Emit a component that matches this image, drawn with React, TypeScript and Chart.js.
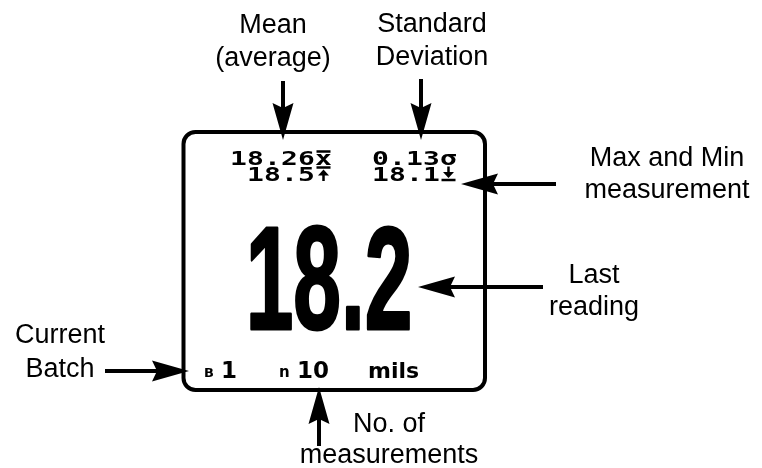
import React, { useEffect, useRef } from "react";
import { Chart, registerables } from "chart.js";

Chart.register(...registerables);

// ---------- data ----------
const CALLOUT_TITLES = ["Mean", "Standard", "Max and Min", "Last", "Current", "No. of"];
const CALLOUT_SUBTITLES = ["(average)", "Deviation", "measurement", "reading", "Batch", "measurements"];
const STAT_VALUES = [18.26, 0.13, 18.5, 18.1]; // mean, std dev, max, min
const STAT_DECIMALS = [2, 2, 1, 1];
const STAT_SYMBOLS = ["xbar", "sigma", "max", "min"];
const LAST_READING = [18.2];
const BATCH_NUMBER = [1];
const MEASUREMENT_COUNT = [10];
const UNIT_LABELS = ["mils"];

// ---------- layout (positions in 762x468 scale units) ----------
const CALLOUT_POS: number[][] = [
  [273, 33, 66],
  [432, 32, 65],
  [667, 166, 198],
  [594, 283, 315],
  [60, 343, 377],
  [389, 432, 463],
];
// tail x, tail y, tip x, tip y
const ARROWS: number[][] = [
  [283, 81, 283, 140],
  [421, 79, 421, 140],
  [556, 184, 461, 184],
  [543, 287, 418, 287],
  [105, 371, 189, 371],
  [319, 446, 319, 387],
];
const HEAD = { len: 37, half: 10.5, notch: 5 };
const BOX = { left: 183.5, top: 132, right: 485, bottom: 390, radius: 12, lineWidth: 4 };
// stat rows: anchor x, baseline, align
const STAT_POS: any[] = [
  [332, 165, "right"],
  [372, 165, "left"],
  [332, 181, "right"],
  [372, 181, "left"],
];
const CELL = 17;
const BIG = { left: 250, right: 410, top: 223, bottom: 330, stroke: 3 };

const shaftData = ARROWS.map(([x1, y1, x2, y2]) => {
  const d = Math.hypot(x2 - x1, y2 - y1);
  const ux = (x2 - x1) / d;
  const uy = (y2 - y1) / d;
  const back = HEAD.len - HEAD.notch - 1;
  return [
    { x: x1, y: y1 },
    { x: x2 - ux * back, y: y2 - uy * back },
  ];
});

const screenPlugin = {
  id: "screen",
  afterDatasetsDraw(chart: any) {
    const ctx: CanvasRenderingContext2D = chart.ctx;
    const sx = chart.scales.x;
    const sy = chart.scales.y;
    const X = (v: number) => sx.getPixelForValue(v);
    const Y = (v: number) => sy.getPixelForValue(v);
    ctx.save();
    ctx.fillStyle = "#000";
    ctx.strokeStyle = "#000";

    // device screen outline
    {
      const l = X(BOX.left), t = Y(BOX.top), r = X(BOX.right), b = Y(BOX.bottom), rad = BOX.radius;
      ctx.lineWidth = BOX.lineWidth;
      ctx.beginPath();
      ctx.moveTo(l + rad, t);
      ctx.lineTo(r - rad, t);
      ctx.arcTo(r, t, r, t + rad, rad);
      ctx.lineTo(r, b - rad);
      ctx.arcTo(r, b, r - rad, b, rad);
      ctx.lineTo(l + rad, b);
      ctx.arcTo(l, b, l, b - rad, rad);
      ctx.lineTo(l, t + rad);
      ctx.arcTo(l, t, l + rad, t, rad);
      ctx.closePath();
      ctx.stroke();
    }

    // arrowheads
    ARROWS.forEach(([x1, y1, x2, y2]) => {
      const tx = X(x2), ty = Y(y2), fx = X(x1), fy = Y(y1);
      const d = Math.hypot(tx - fx, ty - fy);
      const ux = (tx - fx) / d, uy = (ty - fy) / d;
      const px = -uy, py = ux;
      const L = HEAD.len, W = HEAD.half, N = HEAD.notch;
      ctx.beginPath();
      ctx.moveTo(tx, ty);
      ctx.lineTo(tx - ux * L + px * W, ty - uy * L + py * W);
      ctx.lineTo(tx - ux * (L - N), ty - uy * (L - N));
      ctx.lineTo(tx - ux * L - px * W, ty - uy * L - py * W);
      ctx.closePath();
      ctx.fill();
    });

    // callout labels
    ctx.font = '27px "Liberation Sans", Arial, sans-serif';
    ctx.textAlign = "center";
    ctx.textBaseline = "alphabetic";
    CALLOUT_TITLES.forEach((t, i) => {
      const [cx, b1, b2] = CALLOUT_POS[i];
      ctx.fillText(t, X(cx), Y(b1));
      ctx.fillText(CALLOUT_SUBTITLES[i], X(cx), Y(b2));
    });

    // stats rows (pixel-like mono)
    const monoFont = 'bold 20px "DejaVu Sans Mono", monospace';
    const drawChar = (ch: string, cx: number, base: number) => {
      ctx.save();
      ctx.translate(cx, base);
      ctx.scale(1.4, 1);
      ctx.font = monoFont;
      ctx.textAlign = "center";
      ctx.fillText(ch, 0, 0);
      ctx.restore();
    };
    const drawSymbol = (sym: string, cx: number, base: number) => {
      const top = base - 14.5;
      ctx.lineWidth = 2.5;
      if (sym === "xbar") {
        drawChar("x", cx, base);
        ctx.beginPath();
        ctx.moveTo(cx - 7, top + 1);
        ctx.lineTo(cx + 7, top + 1);
        ctx.stroke();
      } else if (sym === "sigma") {
        drawChar("σ", cx, base);
      } else if (sym === "max") {
        ctx.beginPath();
        ctx.moveTo(cx - 7, top + 1);
        ctx.lineTo(cx + 7, top + 1);
        ctx.moveTo(cx, top + 6);
        ctx.lineTo(cx, base);
        ctx.stroke();
        ctx.beginPath();
        ctx.moveTo(cx, top + 3);
        ctx.lineTo(cx - 5.5, top + 9);
        ctx.lineTo(cx + 5.5, top + 9);
        ctx.closePath();
        ctx.fill();
      } else {
        ctx.beginPath();
        ctx.moveTo(cx, top);
        ctx.lineTo(cx, base - 6);
        ctx.moveTo(cx - 7, base - 1);
        ctx.lineTo(cx + 7, base - 1);
        ctx.stroke();
        ctx.beginPath();
        ctx.moveTo(cx, base - 3);
        ctx.lineTo(cx - 5.5, base - 9);
        ctx.lineTo(cx + 5.5, base - 9);
        ctx.closePath();
        ctx.fill();
      }
    };
    STAT_VALUES.forEach((v, i) => {
      const s = v.toFixed(STAT_DECIMALS[i]);
      const [ax, base, align] = STAT_POS[i];
      const cells = s.length + 1;
      const start = align === "right" ? X(ax) - cells * CELL : X(ax);
      const b = Y(base);
      for (let k = 0; k < s.length; k++) drawChar(s[k], start + CELL * (k + 0.5), b);
      drawSymbol(STAT_SYMBOLS[i], start + CELL * (s.length + 0.5), b);
    });

    // big last reading
    {
      const txt = LAST_READING[0].toFixed(1);
      const Ls = BIG.stroke;
      ctx.textAlign = "left";
      ctx.textBaseline = "alphabetic";
      const capH = Y(BIG.bottom) - Y(BIG.top) - Ls;
      let size = capH / 0.72;
      ctx.font = `bold ${size}px "Liberation Sans", Arial, sans-serif`;
      let m = ctx.measureText(txt);
      size = (size * capH) / m.actualBoundingBoxAscent;
      ctx.font = `bold ${size}px "Liberation Sans", Arial, sans-serif`;
      m = ctx.measureText(txt);
      const W = m.actualBoundingBoxLeft + m.actualBoundingBoxRight + Ls;
      const scaleX = (X(BIG.right) - X(BIG.left)) / W;
      ctx.save();
      ctx.translate(X(BIG.left), Y(BIG.bottom) - Ls / 2);
      ctx.scale(scaleX, 1);
      ctx.lineWidth = Ls;
      ctx.lineJoin = "round";
      const ox = m.actualBoundingBoxLeft + Ls / 2;
      ctx.strokeText(txt, ox, 0);
      ctx.fillText(txt, ox, 0);
      ctx.restore();
    }

    // bottom row
    ctx.textAlign = "left";
    ctx.font = 'bold 13px "DejaVu Sans", sans-serif';
    ctx.fillText("B", X(204), Y(377));
    ctx.font = 'bold 15px "DejaVu Sans", sans-serif';
    ctx.fillText("n", X(279), Y(377));
    ctx.font = 'bold 23px "DejaVu Sans", sans-serif';
    ctx.fillText(String(BATCH_NUMBER[0]), X(221), Y(378));
    ctx.fillText(String(MEASUREMENT_COUNT[0]), X(297), Y(378));
    ctx.font = 'bold 22px "DejaVu Sans", sans-serif';
    ctx.fillText(UNIT_LABELS[0], X(368), Y(378));

    ctx.restore();
  },
};

export default function App() {
  const ref = useRef<HTMLCanvasElement>(null);
  useEffect(() => {
    document.body.style.margin = "0";
    const chart = new Chart(ref.current as HTMLCanvasElement, {
      type: "scatter",
      data: {
        datasets: shaftData.map((pts, i) => ({
          label: "arrow" + i,
          data: pts,
          showLine: true,
          borderColor: "#000",
          backgroundColor: "#000",
          borderWidth: 4,
          borderCapStyle: "butt",
          pointRadius: 0,
          pointHoverRadius: 0,
          clip: false,
        })) as any,
      },
      options: {
        responsive: false,
        animation: false,
        devicePixelRatio: 1,
        events: [],
        layout: { padding: 0 },
        plugins: {
          legend: { display: false },
          tooltip: { enabled: false },
          title: { display: false },
        },
        scales: {
          x: { type: "linear", min: 0, max: 762, display: false },
          y: { type: "linear", min: 0, max: 468, reverse: true, display: false },
        },
      },
      plugins: [screenPlugin],
    });
    return () => chart.destroy();
  }, []);
  return (
    <div style={{ width: 762, height: 468, background: "#fff" }}>
      <canvas ref={ref} width={762} height={468} style={{ display: "block" }} />
    </div>
  );
}
